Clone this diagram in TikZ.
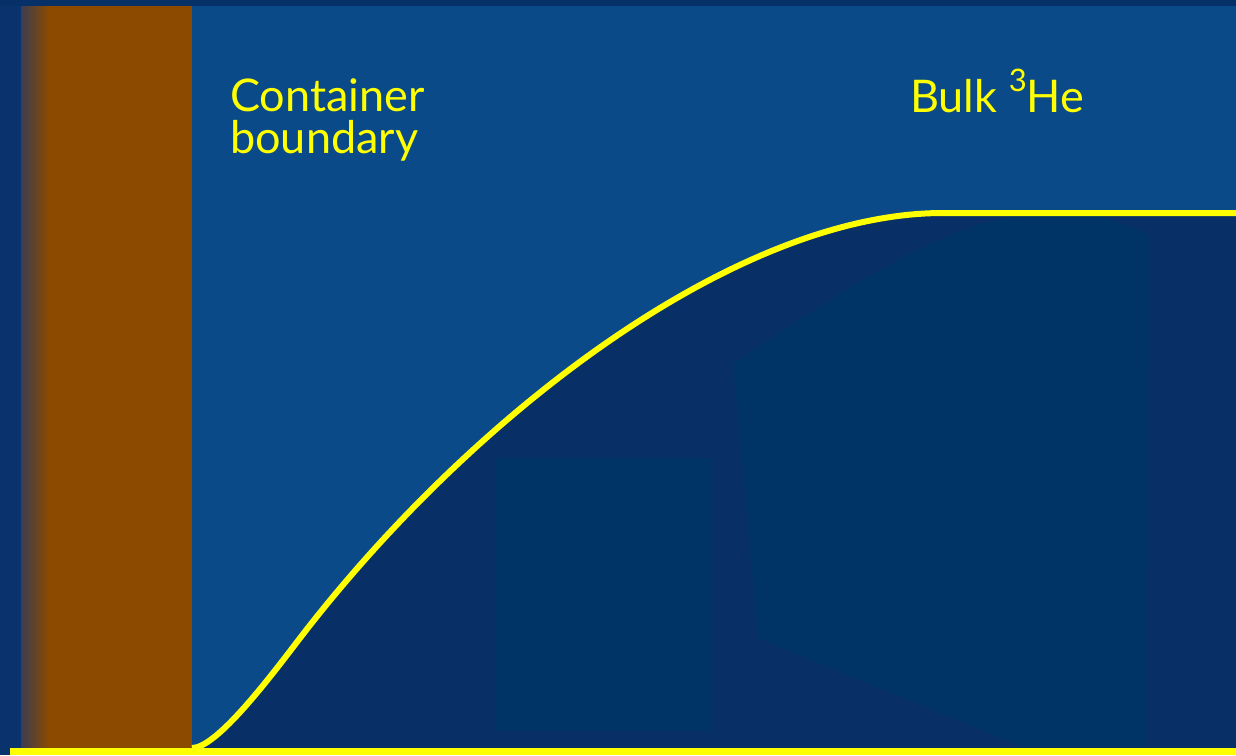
\documentclass[tikz,border=0pt]{standalone}
\usepackage{fontspec}
\setmainfont{Lato}
\definecolor{edgeblue}{HTML}{0A336E}
\definecolor{topband}{HTML}{053068}
\definecolor{bulkblue}{HTML}{0A4A88}
\definecolor{filmblue}{HTML}{093066}
\definecolor{deepblue}{HTML}{003366}
\definecolor{wallbrown}{HTML}{8B4A00}
\definecolor{wallgrey}{HTML}{3C3C52}
\definecolor{hiyellow}{HTML}{FFFF00}
\tikzset{
  profile/.style={draw=hiyellow, line width=6pt, line join=round},
  label/.style={text=hiyellow, font=\fontsize{45}{42}\selectfont, inner sep=0pt, anchor=base west, align=left},
}
% order-parameter profile rising from the wall to its bulk value
\def\healcurve{(192,748) .. controls (215,748) and (262,688) .. (297,642)
  .. controls (467,419) and (733,213) .. (943,213)}
\begin{document}
\begin{tikzpicture}[x=1pt,y=-1pt]
\useasboundingbox (0,0) rectangle (1236,755);
% background
\fill[edgeblue] (0,0) rectangle (1236,755);
\fill[topband] (0,0) rectangle (1236,6);
\fill[bulkblue] (192,6) rectangle (1236,748);
% container wall
\fill[wallbrown] (48,6) rectangle (192,748);
\shade[left color=wallgrey, right color=wallbrown] (21,6) rectangle (48.5,748);
% region under the profile
\fill[filmblue] \healcurve -- (1236,213) -- (1236,748) -- (192,748) -- cycle;
\fill[deepblue] (496,458) rectangle (712,731);
\fill[deepblue] (733,364) .. controls (800,320) and (930,225) .. (1023,215)
  -- (1100,215) -- (1150,235) -- (1145,746) -- (1020,746) -- (758,638) -- cycle;
% profile and floor line
\draw[profile] \healcurve -- (1236,213);
\fill[hiyellow] (10,748) rectangle (1236,755);
% labels
\node[label] (wall) at (230,153) {Container\\boundary};
\node[label] (bulk) at (910,112) {Bulk \raisebox{21pt}{\fontsize{31}{31}\selectfont 3}He};
\end{tikzpicture}
\end{document}
